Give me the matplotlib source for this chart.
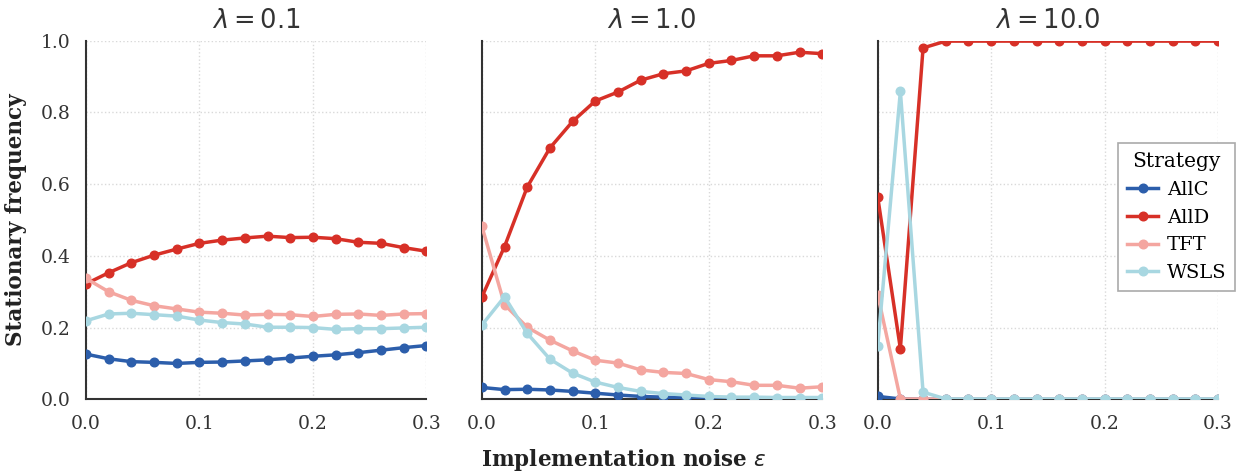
import numpy as np
import matplotlib
matplotlib.use("Agg")
import matplotlib.pyplot as plt

# ---- data ----
eps = [0.00, 0.02, 0.04, 0.06, 0.08, 0.10, 0.12, 0.14, 0.16, 0.18, 0.20, 0.22, 0.24, 0.26, 0.28, 0.30]
lambdas = ["0.1", "1.0", "10.0"]
strategies = ["AllC", "AllD", "TFT", "WSLS"]

allc_l01 = [0.126, 0.113, 0.105, 0.103, 0.100, 0.103, 0.104, 0.107, 0.110, 0.115, 0.120, 0.124, 0.130, 0.137, 0.144, 0.150]
alld_l01 = [0.322, 0.353, 0.381, 0.402, 0.419, 0.435, 0.444, 0.450, 0.455, 0.451, 0.452, 0.448, 0.438, 0.435, 0.423, 0.413]
tft_l01 = [0.337, 0.300, 0.276, 0.261, 0.252, 0.243, 0.240, 0.235, 0.237, 0.236, 0.231, 0.237, 0.238, 0.234, 0.238, 0.239]
wsls_l01 = [0.219, 0.238, 0.240, 0.236, 0.232, 0.221, 0.214, 0.210, 0.201, 0.201, 0.200, 0.195, 0.197, 0.197, 0.199, 0.201]

allc_l1 = [0.033, 0.027, 0.028, 0.026, 0.022, 0.017, 0.012, 0.008, 0.006, 0.004, 0.003, 0.002, 0.002, 0.001, 0.001, 0.001]
alld_l1 = [0.285, 0.426, 0.592, 0.701, 0.775, 0.832, 0.857, 0.890, 0.908, 0.916, 0.937, 0.945, 0.958, 0.958, 0.968, 0.964]
tft_l1 = [0.483, 0.264, 0.201, 0.165, 0.135, 0.109, 0.101, 0.082, 0.075, 0.072, 0.055, 0.049, 0.039, 0.039, 0.031, 0.035]
wsls_l1 = [0.207, 0.286, 0.184, 0.112, 0.073, 0.048, 0.033, 0.022, 0.016, 0.012, 0.008, 0.006, 0.006, 0.005, 0.005, 0.005]

allc_l10 = [0.008, 0.001, 0.000, 0.000, 0.000, 0.000, 0.000, 0.000, 0.000, 0.000, 0.000, 0.000, 0.000, 0.000, 0.000, 0.000]
alld_l10 = [0.565, 0.141, 0.980, 0.999, 0.999, 0.999, 0.999, 0.999, 0.999, 0.999, 0.999, 0.999, 0.999, 0.999, 0.999, 0.999]
tft_l10 = [0.292, 0.001, 0.001, 0.000, 0.000, 0.000, 0.000, 0.000, 0.000, 0.000, 0.000, 0.000, 0.000, 0.000, 0.000, 0.000]
wsls_l10 = [0.148, 0.859, 0.020, 0.001, 0.001, 0.001, 0.001, 0.001, 0.001, 0.001, 0.001, 0.001, 0.001, 0.001, 0.001, 0.001]

panels = [
    [allc_l01, alld_l01, tft_l01, wsls_l01],
    [allc_l1, alld_l1, tft_l1, wsls_l1],
    [allc_l10, alld_l10, tft_l10, wsls_l10],
]
colors = ["#2c5eab", "#d73027", "#f4a6a0", "#a8d7e1"]

plt.rcParams["font.family"] = ["DejaVu Serif"]

fig, axes = plt.subplots(1, 3, figsize=(12.48, 4.74), dpi=100, sharey=True)
fig.subplots_adjust(left=0.0689, right=0.976, top=0.914, bottom=0.1576, wspace=0.163)

for i, ax in enumerate(axes):
    for s, name in enumerate(strategies):
        ax.plot(eps, panels[i][s], color=colors[s], lw=2.5, marker="o", ms=6.2,
                label=name, zorder=3)
    ax.set_xlim(0, 0.3)
    ax.set_ylim(0, 1.0)
    ax.set_xticks([0.0, 0.1, 0.2, 0.3])
    ax.set_yticks([0.0, 0.2, 0.4, 0.6, 0.8, 1.0])
    ax.grid(True, linestyle=":", color="#d9d9d9", lw=1.0)
    ax.set_axisbelow(True)
    for sp in ["top", "right"]:
        ax.spines[sp].set_visible(False)
    for sp in ["left", "bottom"]:
        ax.spines[sp].set_color("#333333")
        ax.spines[sp].set_linewidth(1.5)
    ax.tick_params(length=0, labelsize=13.5, colors="#333333", pad=11)
    ax.set_title(r"$\lambda = " + lambdas[i] + "$", fontsize=18.5, color="#333333", pad=9)

axes[0].set_ylabel("Stationary frequency", fontsize=15.5, fontweight="bold", color="#222222",
                   labelpad=10)
fig.supxlabel(r"Implementation noise $\varepsilon$", fontsize=15.5, fontweight="bold",
              color="#222222", y=0.003)

leg = axes[2].legend(title="Strategy", loc="center right", bbox_to_anchor=(1.05, 0.508),
                     borderaxespad=0.0, fontsize=14, title_fontsize=14.5, fancybox=False,
                     framealpha=1, edgecolor="#aaaaaa", handlelength=1.6, borderpad=0.45,
                     labelspacing=0.5, handletextpad=0.45)
leg.get_frame().set_linewidth(1.2)

fig.savefig("out.png", dpi=100)
